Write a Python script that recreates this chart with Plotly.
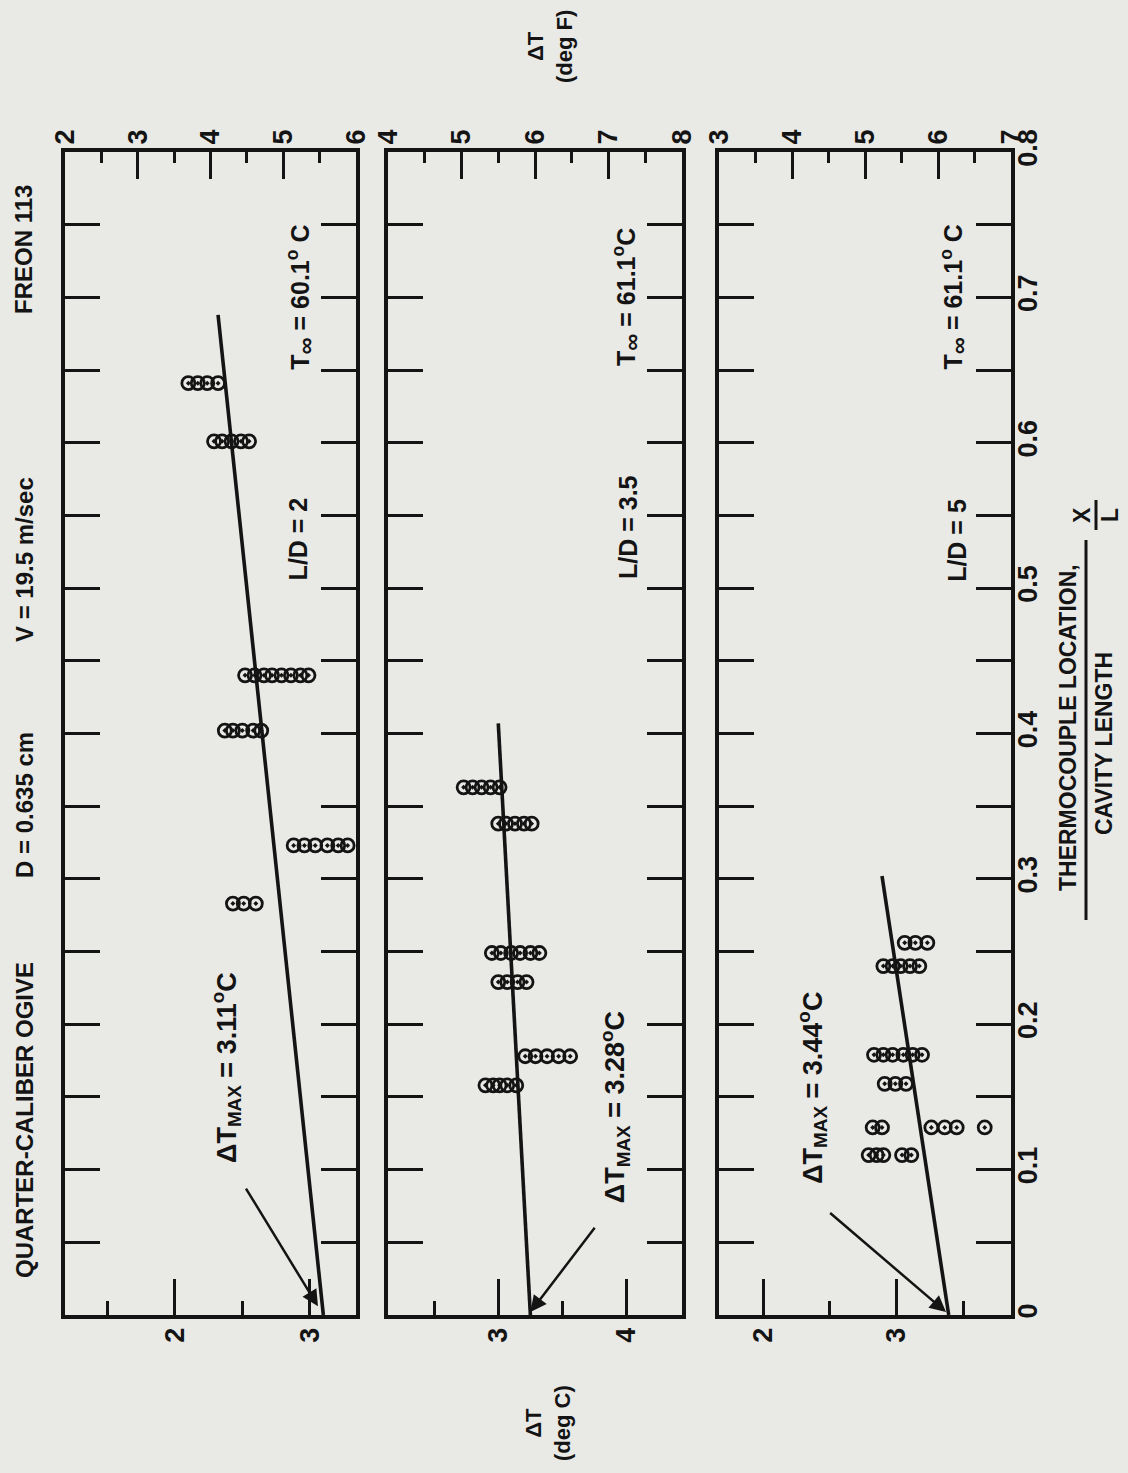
import plotly.graph_objects as go

# ---------------- data ----------------
# Panel 1 : L/D = 2
p1_xl = [0.641, 0.641, 0.641, 0.641,
         0.601, 0.601, 0.601, 0.601, 0.601,
         0.440, 0.440, 0.440, 0.440, 0.440, 0.440, 0.440, 0.440,
         0.402, 0.402, 0.402, 0.402, 0.402,
         0.323, 0.323, 0.323, 0.323, 0.323, 0.323,
         0.283, 0.283, 0.283]
p1_dt = [2.10, 2.17, 2.24, 2.32,
         2.29, 2.35, 2.42, 2.49, 2.55,
         2.52, 2.59, 2.66, 2.72, 2.79, 2.86, 2.93, 2.99,
         2.37, 2.43, 2.50, 2.58, 2.64,
         2.88, 2.96, 3.04, 3.13, 3.21, 3.28,
         2.43, 2.51, 2.60]
p1_fit_xl = [0.0, 0.688]
p1_fit_dt = [3.10, 2.32]

# Panel 2 : L/D = 3.5
p2_xl = [0.363, 0.363, 0.363, 0.363, 0.363,
         0.338, 0.338, 0.338, 0.338, 0.338,
         0.249, 0.249, 0.249, 0.249, 0.249, 0.249,
         0.229, 0.229, 0.229, 0.229,
         0.178, 0.178, 0.178, 0.178, 0.178,
         0.158, 0.158, 0.158, 0.158, 0.158]
p2_dt = [2.73, 2.80, 2.87, 2.94, 3.01,
         3.00, 3.06, 3.13, 3.20, 3.26,
         2.95, 3.02, 3.10, 3.17, 3.25, 3.32,
         3.00, 3.07, 3.15, 3.22,
         3.21, 3.29, 3.38, 3.47, 3.56,
         2.90, 2.96, 3.01, 3.07, 3.14]
p2_fit_xl = [0.0, 0.407]
p2_fit_dt = [3.25, 3.00]

# Panel 3 : L/D = 5
p3_xl = [0.256, 0.256, 0.256,
         0.240, 0.240, 0.240, 0.240, 0.240,
         0.179, 0.179, 0.179, 0.179, 0.179, 0.179,
         0.159, 0.159, 0.159,
         0.129, 0.129, 0.129, 0.129, 0.129, 0.129,
         0.110, 0.110, 0.110, 0.110, 0.110]
p3_dt = [3.06, 3.14, 3.23,
         2.90, 2.97, 3.03, 3.10, 3.17,
         2.83, 2.90, 2.97, 3.05, 3.12, 3.19,
         2.91, 2.99, 3.07,
         2.82, 2.89, 3.26, 3.36, 3.45, 3.66,
         2.79, 2.85, 2.90, 3.04, 3.11]
p3_fit_xl = [0.0, 0.302]
p3_fit_dt = [3.39, 2.89]

ld_labels = ["L/D = 2", "L/D = 3.5", "L/D = 5"]
INF = "<span style='font-size:24px'>∞</span>"
tinf_labels = [f"T<sub>{INF}</sub> = 60.1<sup>o</sup> C",
               f"T<sub>{INF}</sub> = 61.1<sup>o</sup>C",
               f"T<sub>{INF}</sub> = 61.1<sup>o</sup> C"]
dtmax_labels = ["ΔT<sub>MAX</sub> = 3.11<sup>o</sup>C",
                "ΔT<sub>MAX</sub> = 3.28<sup>o</sup>C",
                "ΔT<sub>MAX</sub> = 3.44<sup>o</sup>C"]
title_parts = ["QUARTER-CALIBER OGIVE", "D = 0.635 cm", "V = 19.5 m/sec", "FREON 113"]

degc_ranges = [[1.186, 3.342], [2.141, 4.431], [1.668, 3.857]]
degf_ranges = [[2, 6], [4, 8], [3, 7]]
xl_range = [0, 0.8]
xl_ticks = [0, 0.1, 0.2, 0.3, 0.4, 0.5, 0.6, 0.7, 0.8]
xl_ticktext = ["0", "0.1", "0.2", "0.3", "0.4", "0.5", "0.6", "0.7", "0.8"]

# ---------------- styling ----------------
FONT = "Liberation Sans, Arial, sans-serif"
WEIGHT = "bold"
BG = "#e9e9e6"
INK = "#141414"
W, H = 1128, 1473
x_doms = [[65 / W, 356 / W], [388 / W, 682 / W], [719 / W, 1011 / W]]
y_dom = [1 - 1315 / H, 1 - 152 / H]


def F(size):
    return dict(family=FONT, size=size, color=INK, weight=WEIGHT)


fig = go.Figure()

panels = [(p1_xl, p1_dt, p1_fit_xl, p1_fit_dt),
          (p2_xl, p2_dt, p2_fit_xl, p2_fit_dt),
          (p3_xl, p3_dt, p3_fit_xl, p3_fit_dt)]

for i, (xl, dt, fxl, fdt) in enumerate(panels):
    n = "" if i == 0 else str(i + 1)
    # invisible helper so the deg F axis gets drawn
    fig.add_trace(go.Scatter(x=degf_ranges[i], y=xl_range, xaxis=f"x{i+4}", yaxis=f"y{n}", mode="markers",
                             marker=dict(size=1, opacity=0), showlegend=False, hoverinfo="skip"))
    fig.add_trace(go.Scatter(x=fdt, y=fxl, xaxis=f"x{n}", yaxis=f"y{n}", mode="lines",
                             line=dict(color=INK, width=3.6), showlegend=False, hoverinfo="skip"))
    fig.add_trace(go.Scatter(x=dt, y=xl, xaxis=f"x{n}", yaxis=f"y{n}", mode="markers",
                             marker=dict(symbol="circle-open-dot", size=13, color=INK,
                                         line=dict(color=INK, width=2.8)),
                             showlegend=False, hoverinfo="skip"))

layout = dict(width=W, height=H, paper_bgcolor=BG, plot_bgcolor=BG,
              margin=dict(l=0, r=0, t=0, b=0, pad=0, autoexpand=False), showlegend=False,
              font=F(26))

TICKFONT = F(27)
for i in range(3):
    n = "" if i == 0 else str(i + 1)
    layout[f"xaxis{n}"] = dict(domain=x_doms[i], anchor=f"y{n}", range=degc_ranges[i], automargin=False,
                               showgrid=False, zeroline=False, showline=True, linewidth=4, linecolor=INK,
                               ticks="inside", tick0=0, dtick=1, ticklen=36, tickwidth=3, tickcolor=INK,
                               minor=dict(ticks="inside", tick0=0, dtick=0.5, ticklen=14, tickwidth=3,
                                          tickcolor=INK),
                               tickangle=-90, tickfont=TICKFONT, ticklabelstandoff=-2)
    layout[f"xaxis{i+4}"] = dict(domain=x_doms[i], anchor=f"y{n}", overlaying=f"x{n}", side="top",
                                 range=degf_ranges[i], automargin=False, showgrid=False, zeroline=False,
                                 showline=True, linewidth=4, linecolor=INK, ticks="inside", tick0=0, dtick=1,
                                 ticklen=27, tickwidth=3, tickcolor=INK,
                                 minor=dict(ticks="inside", tick0=0, dtick=0.5, ticklen=11, tickwidth=3,
                                            tickcolor=INK),
                                 tickangle=-90, tickfont=TICKFONT, ticklabelstandoff=-2)
    layout[f"yaxis{n}"] = dict(domain=y_dom, anchor=f"x{n}", range=xl_range, automargin=False,
                               showgrid=False, zeroline=False, showline=True, linewidth=4, linecolor=INK,
                               mirror="allticks", ticks="inside", tickvals=xl_ticks, ticktext=xl_ticktext,
                               ticklen=35, tickwidth=3, tickcolor=INK,
                               minor=dict(ticks="inside", tick0=0, dtick=0.05, ticklen=15, tickwidth=3,
                                          tickcolor=INK),
                               showticklabels=(i == 2), side="right" if i == 2 else "left",
                               tickangle=-90, tickfont=TICKFONT, ticklabelstandoff=-10)
fig.update_layout(**layout)

ann = []
ld_pos = [(2.91, 0.534), (4.01, 0.542), (3.45, 0.533)]
tinf_pos = [(2.93, 0.70), (4.00, 0.70), (3.43, 0.70)]
dtmax_pos = [(2.38, 0.17), (3.91, 0.143), (2.37, 0.156)]
arrows = [((3.06, 0.006), (2.52, 0.088)), ((3.25, 0.002), (3.76, 0.061)), ((3.37, 0.002), (2.49, 0.071))]
for i in range(3):
    xa = "x" if i == 0 else f"x{i+1}"
    ya = "y" if i == 0 else f"y{i+1}"
    common = dict(xref=xa, yref=ya, textangle=-90, showarrow=False, xanchor="center", yanchor="middle")
    ann.append(dict(x=ld_pos[i][0], y=ld_pos[i][1], text=ld_labels[i], font=F(25), **common))
    ann.append(dict(x=tinf_pos[i][0], y=tinf_pos[i][1], text=tinf_labels[i], font=F(25), **common))
    ann.append(dict(x=dtmax_pos[i][0], y=dtmax_pos[i][1], text=dtmax_labels[i], font=F(27), **common))
    (hx, hy), (tx, ty) = arrows[i]
    ann.append(dict(x=hx, y=hy, xref=xa, yref=ya, ax=tx, ay=ty, axref=xa, ayref=ya, text="",
                    showarrow=True, arrowhead=2, arrowsize=1.3, arrowwidth=2.5, arrowcolor=INK))

pcommon = dict(xref="paper", yref="paper", textangle=-90, showarrow=False, xanchor="center", yanchor="middle")
title_y = [1120, 805, 560, 250]
for t, yy in zip(title_parts, title_y):
    ann.append(dict(x=24 / W, y=1 - yy / H, text=t, font=F(24), **pcommon))

ann.append(dict(x=550 / W, y=1 - 47 / H, text="ΔT<br>(deg F)", font=F(22), **pcommon))
ann.append(dict(x=548 / W, y=1 - 1423 / H, text="ΔT<br>(deg C)", font=F(22), **pcommon))
ann.append(dict(x=1068 / W, y=1 - 728 / H, text="THERMOCOUPLE LOCATION,", font=F(23), **pcommon))
ann.append(dict(x=1104 / W, y=1 - 744 / H, text="CAVITY LENGTH", font=F(23), **pcommon))
ann.append(dict(x=1082 / W, y=1 - 515 / H, text="X", font=F(23), **pcommon))
ann.append(dict(x=1110 / W, y=1 - 515 / H, text="L", font=F(23), **pcommon))
fig.update_layout(annotations=ann)

shapes = [
    dict(type="line", xref="paper", yref="paper", x0=1086 / W, x1=1086 / W, y0=1 - 920 / H, y1=1 - 540 / H,
         line=dict(color=INK, width=3)),
    dict(type="line", xref="paper", yref="paper", x0=1096 / W, x1=1096 / W, y0=1 - 530 / H, y1=1 - 500 / H,
         line=dict(color=INK, width=3)),
]
fig.update_layout(shapes=shapes)

fig.write_html("out.html", config={"displayModeBar": False},
               post_script="document.body.style.margin='0';document.body.style.background='#e9e9e6';")
